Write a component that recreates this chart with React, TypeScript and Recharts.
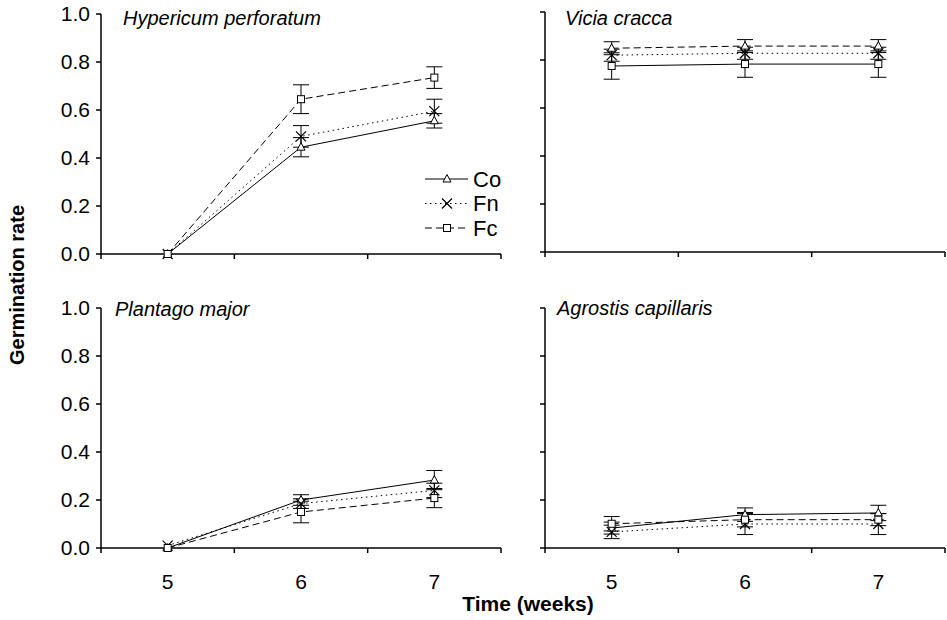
import React from "react";
import { LineChart, Line, XAxis, YAxis, ErrorBar, Legend } from "recharts";

const FONT = '"Liberation Sans", Arial, sans-serif';

const weeks = [5, 6, 7];
const xTicks = [4.5, 5, 5.5, 6, 6.5, 7, 7.5];
const yTicks = [0, 0.2, 0.4, 0.6, 0.8, 1.0];

// Hypericum perforatum
const hypCo = [0, 0.445, 0.555];
const hypCoErr = [0, 0.04, 0.03];
const hypFn = [0, 0.49, 0.595];
const hypFnErr = [0, 0.045, 0.05];
const hypFc = [0, 0.645, 0.735];
const hypFcErr = [0, 0.06, 0.045];

// Vicia cracca
const vicCo = [0.775, 0.783, 0.783];
const vicCoErr = [0.055, 0.055, 0.055];
const vicFn = [0.82, 0.828, 0.828];
const vicFnErr = [0.025, 0.025, 0.025];
const vicFc = [0.849, 0.858, 0.858];
const vicFcErr = [0.027, 0.027, 0.027];

// Plantago major
const plaCo = [0, 0.2, 0.283];
const plaCoErr = [0, 0.022, 0.04];
const plaFn = [0.01, 0.185, 0.24];
const plaFnErr = [0, 0.02, 0.03];
const plaFc = [0, 0.15, 0.208];
const plaFcErr = [0, 0.045, 0.04];

// Agrostis capillaris
const agrCo = [0.083, 0.139, 0.146];
const agrCoErr = [0.025, 0.028, 0.032];
const agrFn = [0.067, 0.1, 0.1];
const agrFnErr = [0.028, 0.044, 0.044];
const agrFc = [0.101, 0.118, 0.118];
const agrFcErr = [0.03, 0.03, 0.025];

const rows = (co: number[], coE: number[], fn: number[], fnE: number[], fc: number[], fcE: number[]) =>
  weeks.map((w, i) => ({
    week: w,
    co: co[i],
    coErr: coE[i],
    fn: fn[i],
    fnErr: fnE[i],
    fc: fc[i],
    fcErr: fcE[i],
  }));

const hypData = rows(hypCo, hypCoErr, hypFn, hypFnErr, hypFc, hypFcErr);
const vicData = rows(vicCo, vicCoErr, vicFn, vicFnErr, vicFc, vicFcErr);
const plaData = rows(plaCo, plaCoErr, plaFn, plaFnErr, plaFc, plaFcErr);
const agrData = rows(agrCo, agrCoErr, agrFn, agrFnErr, agrFc, agrFcErr);

const DOTTED = "1.5 3.5";
const DASHED = "7 4";
const AXIS_W = 1.5;

type MarkerKind = "tri" | "cross" | "square";

function marker(kind: MarkerKind, cx: number, cy: number, key?: any) {
  if (kind === "tri") {
    return (
      <polygon
        key={key}
        points={`${cx},${cy - 4.5} ${cx - 4},${cy + 3} ${cx + 4},${cy + 3}`}
        fill="#fff"
        stroke="#000"
        strokeWidth={1}
      />
    );
  }
  if (kind === "square") {
    return (
      <rect key={key} x={cx - 3.5} y={cy - 3.5} width={7} height={7} fill="#fff" stroke="#000" strokeWidth={1} />
    );
  }
  return (
    <g key={key} stroke="#000" strokeWidth={1.2}>
      <line x1={cx - 5} y1={cy - 5} x2={cx + 5} y2={cy + 5} />
      <line x1={cx - 5} y1={cy + 5} x2={cx + 5} y2={cy - 5} />
    </g>
  );
}

const dotFn = (kind: MarkerKind) => (p: any) => marker(kind, p.cx, p.cy, `${kind}-${p.index}`);

const legendRows = [
  { name: "Co", dash: undefined, kind: "tri" as MarkerKind },
  { name: "Fn", dash: DOTTED, kind: "cross" as MarkerKind },
  { name: "Fc", dash: DASHED, kind: "square" as MarkerKind },
];

function LegendBox() {
  return (
    <svg width={90} height={75} style={{ display: "block" }}>
      {legendRows.map((r, i) => {
        const y = 12 + i * 24.5;
        return (
          <g key={r.name}>
            <line x1={0} x2={43} y1={y} y2={y} stroke="#000" strokeWidth={1} strokeDasharray={r.dash} />
            {marker(r.kind, 22, y)}
            <text x={48} y={y} dy="0.36em" fontSize={22} fontFamily={FONT} fill="#000">
              {r.name}
            </text>
          </g>
        );
      })}
    </svg>
  );
}

const XTick = (showLabel: boolean) => (p: any) => {
  const v = p.payload.value;
  const half = Math.abs(v - Math.round(v)) > 0.1;
  if (half) {
    return <line x1={p.x} x2={p.x} y1={p.y} y2={p.y + 5} stroke="#000" strokeWidth={AXIS_W} />;
  }
  if (!showLabel) return <g />;
  return (
    <text x={p.x} y={p.y + 26} dy="0.71em" textAnchor="middle" fontSize={21} fontFamily={FONT} fill="#000">
      {v}
    </text>
  );
};

interface PanelProps {
  data: any[];
  x: number; // plot left
  y: number; // plot top
  yLabels: boolean;
  xLabels: boolean;
  kinds: [MarkerKind, MarkerKind, MarkerKind];
  legend?: boolean;
}

function Panel({ data, x, y, yLabels, xLabels, kinds, legend }: PanelProps) {
  const yW = 61;
  const top = 12;
  const left = x - yW;
  const chartTop = y - top;
  return (
    <div style={{ position: "absolute", left, top: chartTop }}>
      <LineChart width={yW + 400 + 2} height={top + 240 + 50} data={data} margin={{ top, right: 2, left: 0, bottom: 0 }}>
        <XAxis
          dataKey="week"
          type="number"
          domain={[4.5, 7.5]}
          ticks={xTicks}
          interval={0}
          tickLine={false}
          tickSize={0}
          tickMargin={0}
          height={50}
          stroke="#000"
          axisLine={{ stroke: "#000", strokeWidth: AXIS_W }}
          tick={XTick(xLabels)}
        />
        <YAxis
          type="number"
          domain={[0, 1]}
          ticks={yTicks}
          interval={0}
          width={yW}
          tickSize={5}
          tickMargin={6}
          stroke="#000"
          axisLine={{ stroke: "#000", strokeWidth: AXIS_W }}
          tickLine={{ stroke: "#000", strokeWidth: AXIS_W }}
          tick={yLabels ? { fontSize: 21, fontFamily: FONT, fill: "#000" } : () => <g />}
          tickFormatter={(v: number) => v.toFixed(1)}
        />
        {legend && (
          <Legend
            layout="vertical"
            align="center"
            verticalAlign="middle"
            width={90}
            height={75}
            wrapperStyle={{ left: 385, top: 165, width: 90, height: 75 }}
            content={() => <LegendBox />}
          />
        )}
        <Line dataKey="co" stroke="#000" strokeWidth={1} dot={dotFn(kinds[0])} isAnimationActive={false}>
          <ErrorBar dataKey="coErr" width={8} stroke="#000" strokeWidth={1} direction="y" isAnimationActive={false} />
        </Line>
        <Line dataKey="fn" stroke="#000" strokeWidth={1} strokeDasharray={DOTTED} dot={dotFn(kinds[1])} isAnimationActive={false}>
          <ErrorBar dataKey="fnErr" width={8} stroke="#000" strokeWidth={1} direction="y" isAnimationActive={false} />
        </Line>
        <Line dataKey="fc" stroke="#000" strokeWidth={1} strokeDasharray={DASHED} dot={dotFn(kinds[2])} isAnimationActive={false}>
          <ErrorBar dataKey="fcErr" width={8} stroke="#000" strokeWidth={1} direction="y" isAnimationActive={false} />
        </Line>
      </LineChart>
    </div>
  );
}

export default function App() {
  const std: [MarkerKind, MarkerKind, MarkerKind] = ["tri", "cross", "square"];
  return (
    <div style={{ position: "absolute", left: 0, top: 0, width: 947, height: 620, background: "#fff", fontFamily: FONT }}>
      <Panel data={hypData} x={101} y={14} yLabels xLabels={false} kinds={std} legend />
      <Panel data={vicData} x={545} y={12} yLabels={false} xLabels={false} kinds={["square", "cross", "tri"]} />
      <Panel data={plaData} x={101} y={308} yLabels xLabels kinds={std} />
      <Panel data={agrData} x={545} y={308} yLabels={false} xLabels kinds={std} />
      <svg width={947} height={620} style={{ position: "absolute", left: 0, top: 0, pointerEvents: "none" }}>
        <g fontFamily={FONT} fontStyle="italic" fontSize={20} fill="#000">
          <text x={123} y={25}>Hypericum perforatum</text>
          <text x={565} y={25}>Vicia cracca</text>
          <text x={115} y={316}>Plantago major</text>
          <text x={557} y={315}>Agrostis capillaris</text>
        </g>
        <text x={528} y={611} textAnchor="middle" fontFamily={FONT} fontWeight="bold" fontSize={21} fill="#000">
          Time (weeks)
        </text>
        <text
          x={0}
          y={0}
          transform="translate(24,285) rotate(-90)"
          textAnchor="middle"
          fontFamily={FONT}
          fontWeight="bold"
          fontSize={20}
          fill="#000"
        >
          Germination rate
        </text>
      </svg>
    </div>
  );
}
